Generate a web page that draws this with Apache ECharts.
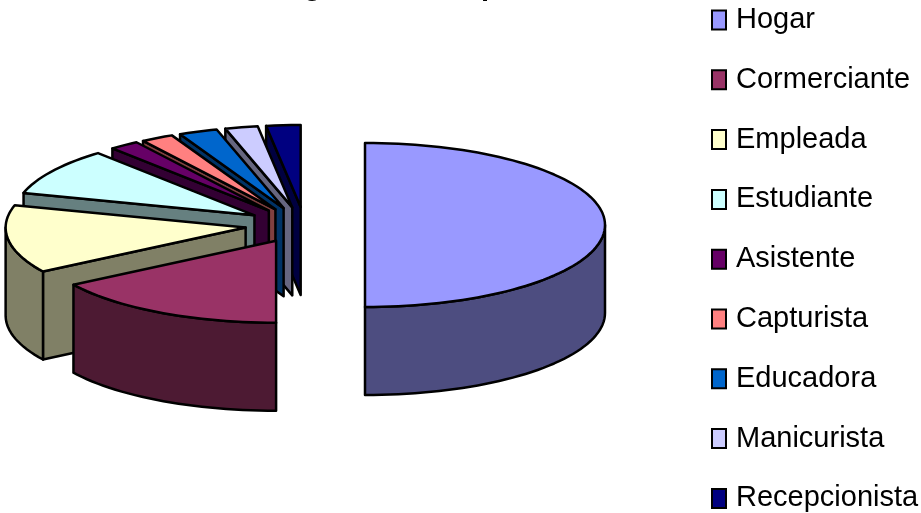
<!DOCTYPE html>
<html><head><meta charset="utf-8">
<style>html,body{margin:0;padding:0;background:#fff}#c{width:921px;height:513px}</style>
<script src="https://cdn.jsdelivr.net/npm/echarts@6/dist/echarts.min.js"></script>
</head><body><div id="c"></div>
<script>
const titleText = 'Categoría de Ocupación';
const categories = ['Hogar','Cormerciante','Empleada','Estudiante','Asistente','Capturista','Educadora','Manicurista','Recepcionista'];
const values = [50, 16, 13.4, 9.3, 2, 2.2, 2.6, 2.2, 2.3];
const colors = ['#9999FF','#993366','#FFFFCC','#CCFFFF','#660066','#FF8080','#0066CC','#CCCCFF','#000080'];
const sideColors = ['#4D4D80','#4D1A33','#808066','#668080','#330033','#804040','#003366','#666680','#000040'];

const CX = 305, CY = 225, RX = 240, RY = 82, DEPTH = 88, EXPLODE = 60, EXPLODE_Y = 18, STEP = 2;
const total = values.reduce((a, b) => a + b, 0);
const rad = d => d * Math.PI / 180;
let acc = 0;
const spans = values.map(v => { const s = acc * 360 / total; acc += v; return [s, acc * 360 / total]; });

function arcPts(cx, cy, a, b, dy) {
  const pts = [];
  for (let t = a; t < b; t += STEP) pts.push([cx + RX * Math.sin(rad(t)), cy - RY * Math.cos(rad(t)) + dy]);
  pts.push([cx + RX * Math.sin(rad(b)), cy - RY * Math.cos(rad(b)) + dy]);
  return pts;
}
const stroke = { stroke: '#000', lineWidth: 2.5, lineJoin: 'round' };
function poly(points, fill) {
  return { type: 'polygon', shape: { points }, style: Object.assign({ fill }, stroke) };
}
function slice(i) {
  const [a, b] = spans[i], mid = rad((a + b) / 2);
  const cx = CX + EXPLODE * Math.sin(mid);
  const cy = CY - EXPLODE_Y * Math.cos(mid);
  const side = sideColors[i], kids = [];
  const pa = arcPts(cx, cy, a, a, 0)[0], pb = arcPts(cx, cy, b, b, 0)[0];
  if (a > 180 && a < 360) kids.push(poly([[cx, cy], pa, [pa[0], pa[1] + DEPTH], [cx, cy + DEPTH]], side));
  if (b > 0 && b < 180) kids.push(poly([[cx, cy], pb, [pb[0], pb[1] + DEPTH], [cx, cy + DEPTH]], side));
  const lo = Math.max(a, 90), hi = Math.min(b, 270);
  if (hi > lo) {
    const top = arcPts(cx, cy, lo, hi, 0), bot = arcPts(cx, cy, lo, hi, DEPTH).reverse();
    kids.push(poly(top.concat(bot), side));
  }
  kids.push(poly([[cx, cy]].concat(arcPts(cx, cy, a, b, 0)), colors[i]));
  return { type: 'group', children: kids };
}

const chart = echarts.init(document.getElementById('c'), null, { renderer: 'canvas' });
chart.setOption({
  animation: false,
  backgroundColor: '#fff',
  title: {
    text: titleText, left: 241, top: -28, padding: 0,
    textStyle: { fontFamily: 'Liberation Sans', fontSize: 29, fontWeight: 'bold', color: '#000' }
  },
  legend: {
    orient: 'vertical', left: 711, top: 1, height: 560, selectedMode: false,
    itemWidth: 14, itemHeight: 19, itemGap: 21.8, padding: 0,
    textStyle: { fontFamily: 'Liberation Sans', fontSize: 29, color: '#000', lineHeight: 20, padding: [0, 0, 18, 5] },
    data: categories.map((name, i) => ({
      name, icon: 'rect',
      itemStyle: { color: colors[i], borderColor: '#000', borderWidth: 2 }
    }))
  },
  series: categories.map((name, i) => ({
    type: 'custom', name, coordinateSystem: 'none', silent: true,
    z: 20 - i,
    itemStyle: { color: colors[i] },
    data: [[values[i]]],
    renderItem: () => slice(i)
  }))
});
</script></body></html>
